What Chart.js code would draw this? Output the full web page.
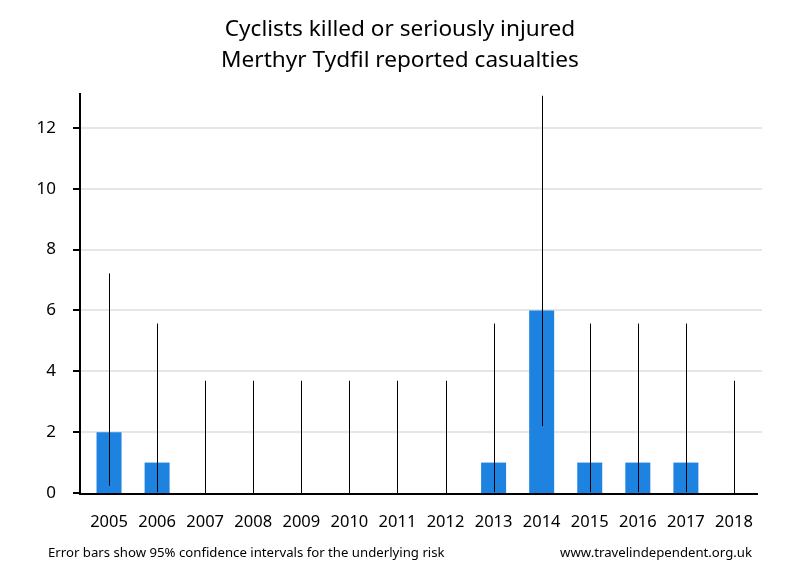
<!DOCTYPE html>
<html>
<head>
<meta charset="utf-8">
<script src="https://cdn.jsdelivr.net/npm/chart.js@4"></script>
<style>
  body { margin: 0; background: #fff; }
  #wrap { width: 800px; height: 580px; position: relative; }
</style>
</head>
<body>
<div id="wrap"><canvas id="chart" width="800" height="580"></canvas></div>
<script>
var years = ['2005', '2006', '2007', '2008', '2009', '2010', '2011', '2012', '2013', '2014', '2015', '2016', '2017', '2018']
var casualties = [2, 1, 0, 0, 0, 0, 0, 0, 1, 6, 1, 1, 1, 0]
var lowerCI = [0.24, 0.03, 0, 0, 0, 0, 0, 0, 0.03, 2.2, 0.03, 0.03, 0.03, 0]
var upperCI = [7.22, 5.57, 3.69, 3.69, 3.69, 3.69, 3.69, 3.69, 5.57, 13.06, 5.57, 5.57, 5.57, 3.69]

var titleLines = ['Cyclists killed or seriously injured', 'Merthyr Tydfil reported casualties']
var footLeft = 'Error bars show 95% confidence intervals for the underlying risk'
var footRight = 'www.travelindependent.org.uk'

var fontName = '"Noto Sans", "Open Sans", sans-serif'
var axisX = 80

// grid lines, axes, error bars and text drawn by hand
const extras = {
    id: 'extras',
    beforeDatasetsDraw(chart) {
        const ctx = chart.ctx
        const y = chart.scales.y
        const area = chart.chartArea
        ctx.save()
        ctx.strokeStyle = '#e6e6e6'
        ctx.lineWidth = 2
        y.ticks.forEach(t => {
            if (t.value === 0) return
            const py = Math.round(y.getPixelForValue(t.value))
            ctx.beginPath()
            ctx.moveTo(axisX, py)
            ctx.lineTo(area.right + 4, py)
            ctx.stroke()
        })
        ctx.restore()
    },
    afterDatasetsDraw(chart) {
        const ctx = chart.ctx
        const x = chart.scales.x
        const y = chart.scales.y
        const area = chart.chartArea
        ctx.save()
        // error bars
        ctx.strokeStyle = '#000'
        ctx.lineWidth = 1
        years.forEach((yr, i) => {
            const px = Math.round(x.getPixelForValue(i)) + 0.5
            ctx.beginPath()
            ctx.moveTo(px, y.getPixelForValue(lowerCI[i]))
            ctx.lineTo(px, y.getPixelForValue(upperCI[i]))
            ctx.stroke()
        })
        // axes
        ctx.lineWidth = 2
        ctx.beginPath()
        ctx.moveTo(axisX, area.top)
        ctx.lineTo(axisX, area.bottom + 1)
        ctx.lineTo(area.right, area.bottom + 1)
        ctx.stroke()
        y.ticks.forEach(t => {
            const py = Math.round(y.getPixelForValue(t.value))
            ctx.beginPath()
            ctx.moveTo(axisX - 7, py)
            ctx.lineTo(axisX, py)
            ctx.stroke()
        })
        // title and footer
        ctx.fillStyle = '#000'
        ctx.textAlign = 'center'
        ctx.textBaseline = 'middle'
        ctx.font = '22.6px ' + fontName
        ctx.fillText(titleLines[0], 400, 30)
        ctx.fillText(titleLines[1], 400, 61)
        ctx.font = '13.2px ' + fontName
        ctx.textAlign = 'left'
        ctx.fillText(footLeft, 48, 553)
        ctx.textAlign = 'right'
        ctx.fillText(footRight, 752, 553)
        ctx.restore()
    }
}

new Chart(document.getElementById('chart'), {
    type: 'bar',
    data: {
        labels: years,
        datasets: [{
            data: casualties,
            backgroundColor: '#1e82e0',
            barPercentage: 0.52,
            categoryPercentage: 1
        }]
    },
    options: {
        responsive: false,
        animation: false,
        layout: { padding: { top: 93, right: 42, bottom: 0, left: 0 } },
        plugins: { legend: { display: false }, tooltip: { enabled: false } },
        scales: {
            x: {
                grid: { display: false, drawTicks: false },
                border: { display: false },
                ticks: { color: '#000', font: { family: fontName, size: 16.5 }, padding: 19, maxRotation: 0 },
                afterFit: s => { s.height = 87 }
            },
            y: {
                min: 0,
                max: 13.15,
                grid: { display: false, drawTicks: false },
                border: { display: false },
                ticks: { stepSize: 2, color: '#000', font: { family: fontName, size: 17 }, padding: 29 },
                afterBuildTicks: s => { s.ticks = s.ticks.filter(t => t.value % 2 === 0) },
                afterFit: s => { s.width = 85 }
            }
        }
    },
    plugins: [extras]
})
</script>
</body>
</html>
